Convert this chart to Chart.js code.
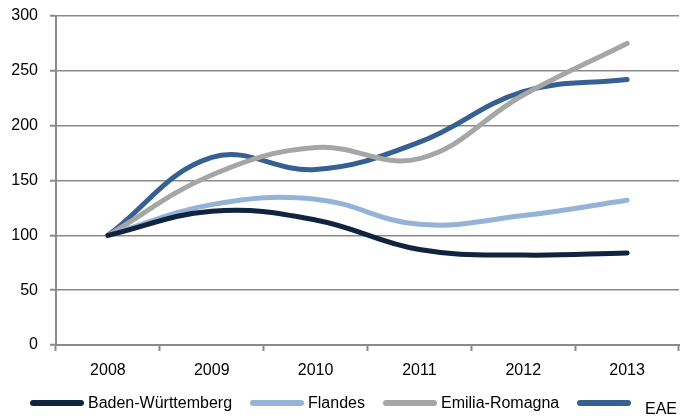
<!DOCTYPE html>
<html>
<head>
<meta charset="utf-8">
<script src="https://cdn.jsdelivr.net/npm/chart.js@4"></script>
<style>
  html, body { margin: 0; padding: 0; background: #fff; }
  #wrap { position: relative; width: 683px; height: 418px; font-family: "Liberation Sans", Arial, sans-serif; }
  #legend { position: absolute; left: 0; top: 393px; width: 683px; height: 22px; }
  .item { position: absolute; top: 0; display: flex; align-items: center; height: 20px; font-size: 16px; color: #000; white-space: nowrap; }
  .swatch { width: 54px; height: 6px; border-radius: 3px; margin-right: 4px; }
</style>
</head>
<body>
<div id="wrap">
  <canvas id="regionChart" width="683" height="418"></canvas>
  <div id="legend"></div>
</div>
<script>
// ── Data ──────────────────────────────────────────────────
const years = ['2008', '2009', '2010', '2011', '2012', '2013'];
const badenWuerttemberg = [100, 122, 114, 87, 82, 84];
const flandes           = [100, 128, 133, 110, 118, 132];
const emiliaRomagna     = [100, 155, 180, 170, 228, 275];
const eae               = [100, 171, 160, 185, 231, 242];
const yTicks = [0, 50, 100, 150, 200, 250, 300];

// ── Styling ───────────────────────────────────────────────
const axisGrey = '#8a8a8a';
const font = { family: '"Liberation Sans", Arial, sans-serif', size: 16 };

function series(label, data, color) {
  return {
    label, data,
    borderColor: color,
    backgroundColor: color,
    borderWidth: 5,
    borderCapStyle: 'round',
    borderJoinStyle: 'round',
    pointRadius: 0,
    tension: 0.4,
    fill: false,
  };
}

const ctx = document.getElementById('regionChart').getContext('2d');
const chart = new Chart(ctx, {
  type: 'line',
  data: {
    labels: years,
    datasets: [
      series('Baden-Württemberg', badenWuerttemberg, '#10243f'),
      series('Flandes', flandes, '#95b3d7'),
      series('Emilia-Romagna', emiliaRomagna, '#a6a6a6'),
      series('EAE', eae, '#376092'),
    ]
  },
  options: {
    responsive: false,
    animation: false,
    layout: { padding: { top: 16, right: 4, left: 0, bottom: 33 } },
    plugins: {
      tooltip: { enabled: false },
      legend: { display: false }
    },
    scales: {
      x: {
        offset: true,
        afterFit: s => { s.height = 40; s.paddingLeft = 0; s.paddingRight = 0; },
        border: { color: axisGrey, width: 2 },
        grid: { offset: true, drawOnChartArea: false, drawTicks: true, tickLength: 6, tickColor: axisGrey, tickWidth: 2 },
        ticks: { color: '#000', font, padding: 10, maxRotation: 0 }
      },
      y: {
        min: 0, max: 300,
        afterFit: s => { s.width = 56; s.paddingTop = 0; s.paddingBottom = 0; },
        afterBuildTicks: s => { s.ticks = yTicks.map(v => ({ value: v })); },
        border: { color: axisGrey, width: 2 },
        grid: {
          color: c => c.tick.value === 0 ? 'rgba(0,0,0,0)' : axisGrey,
          borderDash: [2, 2],
          lineWidth: 1.5,
          tickLength: 6,
          tickColor: axisGrey,
          tickWidth: 2,
        },
        ticks: { color: '#000', font, padding: 12 }
      }
    }
  }
});

// ── Legend (HTML, under the plot) ─────────────────────────
const legendLeft = [30, 250, 383, 577];
const legendEl = document.getElementById('legend');
chart.data.datasets.forEach((ds, i) => {
  const item = document.createElement('div');
  item.className = 'item';
  item.style.left = legendLeft[i] + 'px';
  const sw = document.createElement('span');
  sw.className = 'swatch';
  sw.style.background = ds.borderColor;
  const txt = document.createElement('span');
  txt.textContent = ds.label;
  if (ds.label === 'EAE') {
    sw.style.marginRight = '14px';
    txt.style.position = 'relative';
    txt.style.top = '6px';
  }
  item.append(sw, txt);
  legendEl.appendChild(item);
});
</script>
</body>
</html>
